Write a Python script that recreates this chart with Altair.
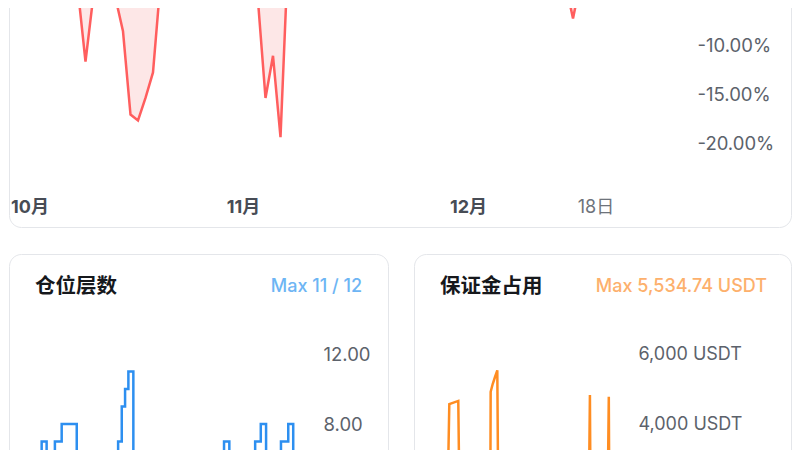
import altair as alt
import pandas as pd

# ---------------- data ----------------
start = "2024-10-01"

# daily drawdown (%), day index from start
dd_day = list(range(89))
dd_pct = [0, -0.8, -1.5, 0, -0.6, -2.1, -1.2, 0, -2.8,
          -4.5, -11.7, -5.3, -2.4, -1.1,
          -5.2, -8.6, -17.1, -17.7, -15.4, -12.8, -3.6,
          -1.8, 0, -0.5, -1.3, 0, 0, -0.9, -2.2, -0.4, 0, -1.6, -3.0,
          -5.5, -15.4, -11.1, -19.4, -1.0,
          -0.3, 0, 0, -1.1, -0.6, 0, -2.0, -1.4, 0, 0,
          -0.7, -1.9, -0.5, 0, -1.2, -2.6, -0.8, 0, 0, -1.5,
          -0.4, 0, -2.3, -3.1, -1.0, 0, -4.4, -4.8, -1.7, 0,
          -0.9, -1.6, 0, -1.1, -2.5, -1.4,
          -3.7, -7.3, -3.5,
          -1.2, 0, -0.6, -1.8, -2.7, -3.2,
          -4.5, -5.9, -4.0,
          -1.5, -0.4, 0]

# position layers (step)
layer_day = [0.0, 4.0, 7.5, 8.9, 10.4, 11.5, 12.9, 14.95, 19.5, 25.0,
             30.0, 32.0, 33.1, 34.1, 35.1, 36.6, 45.0, 55.0, 64.0, 65.6,
             70.0, 73.4, 75.1, 76.7, 79.0, 81.2, 83.4, 84.9, 88.0]
layer_val = [1, 3, 5, 7, 4, 6, 7, 8, 2, 4,
             6, 7, 9, 10, 11, 1, 3, 5, 7, 2,
             4, 7, 8, 3, 6, 7, 8, 2, 1]

# margin used (USDT)
margin_day = [0.0, 8.9, 10.4, 12.9, 13.35, 17.2, 17.9, 25.0, 31.0, 31.1,
              32.0, 33.0, 33.95, 34.5, 45.0, 64.0, 65.6, 73.4, 73.7, 74.0,
              81.5, 81.8, 82.1, 88.0]
margin_val = [300, 2750, 600, 2900, 4570, 4660, 800, 1500, 2900, 4920,
              5150, 5350, 5534.74, 400, 1200, 2800, 300, 2900, 4830, 1200,
              3000, 4780, 900, 200]

title_layers = "仓位层数"
max_layers = "Max 11 / 12"
title_margin = "保证金占用"
max_margin = "Max 5,534.74 USDT"

x_tick_days = [0, 31, 61, 78]
dd_ticks = [-10, -15, -20]
layer_ticks = [8, 12]
margin_ticks = [4000, 6000]

# ---------------- helpers ----------------
T0 = pd.Timestamp(start, tz="UTC")


def iso(d):
    return (T0 + pd.Timedelta(days=d)).strftime("%Y-%m-%dT%H:%M:%SZ")


def ms(d):
    return int((T0 + pd.Timedelta(days=d)).value // 10**6)


FONT = "Inter, Noto Sans CJK SC, sans-serif"
CJK = "Noto Sans CJK SC, sans-serif"
BORDER = "#e4e6ea"
LABEL = "#5c626b"

one = pd.DataFrame({"k": [0]})

dd_df = pd.DataFrame({"t": [iso(d) for d in dd_day], "v": dd_pct})
layer_df = pd.DataFrame({"t": [iso(d) for d in layer_day], "v": layer_val})
margin_df = pd.DataFrame({"t": [iso(d) for d in margin_day], "v": margin_val})

# ---------------- top: drawdown ----------------
TOP_W, TOP_H = 784, 221
px_day_top = 7.5
x0_top = 2.5

top_x = alt.X(
    "t:T",
    scale=alt.Scale(type="utc", domain=[ms(-x0_top / px_day_top), ms((TOP_W - x0_top) / px_day_top)]),
    axis=alt.Axis(
        values=[ms(d) for d in x_tick_days],
        labelExpr="utcdate(datum.value) == 1 ? (utcmonth(datum.value) + 1) + '月' : utcdate(datum.value) + '日'",
        labelFontWeight={"condition": {"test": "utcdate(datum.value) == 1", "value": "bold"}, "value": "normal"},
        labelColor={"condition": {"test": "utcdate(datum.value) == 1", "value": "#474c55"}, "value": "#6e737b"},
        labelAlign={"condition": {"test": "utcmonth(datum.value) == 9 && utcdate(datum.value) == 1", "value": "left"}, "value": "center"},
        labelFlush=False,
        labelOverlap=False,
        labelBaseline="top",
        labelPadding=0,
        offset=-30.5,
        ticks=False,
        tickSize=0,
        domain=False,
        grid=False,
        labelFont=FONT,
        labelFontSize=18,
        title=None,
        zindex=2,
    ),
)
top_y = alt.Y(
    "v:Q",
    scale=alt.Scale(domain=[-(TOP_H + 61) / 9.8, -61 / 9.8], nice=False, zero=False),
    axis=alt.Axis(
        orient="right",
        values=dd_ticks,
        labelExpr="'-' + format(abs(datum.value), '.2f') + '%'",
        labelAlign="left",
        labelPadding=0,
        offset=-95,
        ticks=False,
        tickSize=0,
        domain=False,
        grid=False,
        labelFont=FONT,
        labelFontSize=18.5,
        labelColor=LABEL,
        title=None,
        zindex=2,
    ),
)

top_card = alt.Chart(one).mark_rect(
    clip=True, fill="white", stroke=BORDER, strokeWidth=1, cornerRadius=12
).encode(x=alt.value(1.5), x2=alt.value(TOP_W - 0.5), y=alt.value(-30), y2=alt.value(TOP_H - 1.5))

dd_base = alt.Chart(dd_df).encode(x=top_x, y=top_y)
dd_area = dd_base.mark_area(color="#fde7e7", clip=True).encode(y2=alt.datum(0))
dd_line = dd_base.mark_line(color="#ff5e5e", strokeWidth=2.5, clip=True)

top = alt.layer(top_card, dd_area, dd_line).properties(width=TOP_W, height=TOP_H)

# ---------------- bottom panels ----------------
BOT_H = 335
BL_W, BR_W = 393, 391


def card(left, right):
    return alt.Chart(one).mark_rect(
        fill="white", stroke=BORDER, strokeWidth=1, cornerRadius=12
    ).encode(x=alt.value(left), x2=alt.value(right), y=alt.value(25.5), y2=alt.value(BOT_H - 5))


def title_text(txt, x):
    return alt.Chart(one).mark_text(
        align="left", baseline="middle", font=CJK, fontSize=20.5, fontWeight="bold", color="#16181c"
    ).encode(x=alt.value(x), y=alt.value(58), text=alt.value(txt))


def max_text(txt, x, color):
    return alt.Chart(one).mark_text(
        align="right", baseline="middle", font=FONT, fontSize=18, fontWeight=500, color=color
    ).encode(x=alt.value(x), y=alt.value(58), text=alt.value(txt))


# left: layers
px_day_l, x0_l = 3.31, 4.2
layer_line = alt.Chart(layer_df).mark_line(
    interpolate="step-after", color="#2d8ff0", strokeWidth=2.5, clip=True
).encode(
    x=alt.X("t:T", scale=alt.Scale(type="utc", domain=[ms(-x0_l / px_day_l), ms((BL_W - x0_l) / px_day_l)]), axis=None),
    y=alt.Y(
        "v:Q",
        scale=alt.Scale(domain=[0, BOT_H / 17.5], nice=False, zero=False),
        axis=alt.Axis(
            orient="right", values=layer_ticks, format=".2f", labelAlign="left", labelPadding=0,
            offset=-78, ticks=False, tickSize=0, domain=False, grid=False,
            labelFont=FONT, labelFontSize=18.5, labelColor=LABEL, title=None, zindex=2,
        ),
    ),
)
left = alt.layer(
    card(1.5, 380.5), layer_line, title_text(title_layers, 27), max_text(max_layers, 354, "#6db5f4")
).properties(width=BL_W, height=BOT_H)

# right: margin
px_day_r, x0_r = 2.33, 17.2
margin_line = alt.Chart(margin_df).mark_line(
    color="#ff8d22", strokeWidth=2.5, clip=True
).encode(
    x=alt.X("t:T", scale=alt.Scale(type="utc", domain=[ms(-x0_r / px_day_r), ms((BR_W - x0_r) / px_day_r)]), axis=None),
    y=alt.Y(
        "v:Q",
        scale=alt.Scale(domain=[0, BOT_H / 0.035], nice=False, zero=False),
        axis=alt.Axis(
            orient="right", values=margin_ticks, labelExpr="format(datum.value, ',.0f') + ' USDT'",
            labelAlign="left", labelPadding=0,
            offset=-154, ticks=False, tickSize=0, domain=False, grid=False,
            labelFont=FONT, labelFontSize=18, labelColor=LABEL, title=None, zindex=2,
        ),
    ),
)
right = alt.layer(
    card(13.5, 390.5), margin_line, title_text(title_margin, 39), max_text(max_margin, 366, "#fdb06c")
).properties(width=BR_W, height=BOT_H)

chart = alt.vconcat(
    top, alt.hconcat(left, right, spacing=0), spacing=0
).properties(padding=0, background="white").configure_view(stroke=None)

chart.save("out.html", embed_options={"renderer": "svg", "actions": False})
